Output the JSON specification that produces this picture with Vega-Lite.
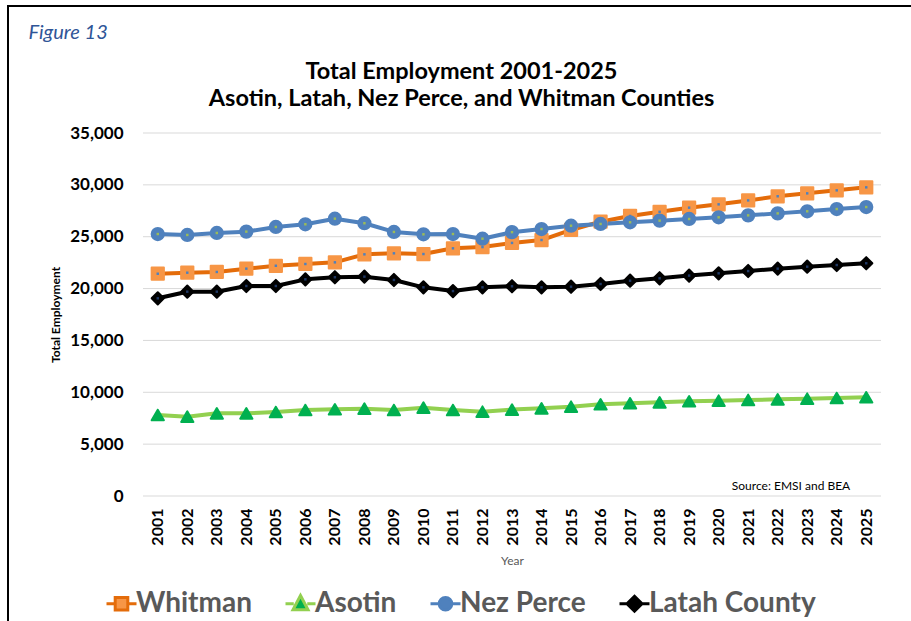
{
  "$schema": "https://vega.github.io/schema/vega-lite/v6.json",
  "width": 903,
  "height": 615,
  "autosize": {"type": "none"},
  "padding": {"left": 8, "top": 6, "right": 0, "bottom": 0},
  "background": "white",
  "config": {
    "font": "Lato",
    "view": {"stroke": "#000000", "strokeWidth": 2, "strokeDash": [903, 1518, 615]}
  },
  "title": {
    "text": ["Total Employment 2001-2025", "Asotin, Latah, Nez Perce, and Whitman Counties"],
    "anchor": "middle",
    "frame": "group",
    "baseline": "alphabetic",
    "offset": -123,
    "dx": 2,
    "lineHeight": 27,
    "font": "Lato",
    "fontSize": 23.5,
    "fontWeight": "bold",
    "color": "#000000"
  },
  "datasets": {
    "emp": [
      {"year": 2001, "county": "Whitman", "value": 21430},
      {"year": 2002, "county": "Whitman", "value": 21530},
      {"year": 2003, "county": "Whitman", "value": 21600},
      {"year": 2004, "county": "Whitman", "value": 21920},
      {"year": 2005, "county": "Whitman", "value": 22200},
      {"year": 2006, "county": "Whitman", "value": 22370},
      {"year": 2007, "county": "Whitman", "value": 22530},
      {"year": 2008, "county": "Whitman", "value": 23300},
      {"year": 2009, "county": "Whitman", "value": 23400},
      {"year": 2010, "county": "Whitman", "value": 23330},
      {"year": 2011, "county": "Whitman", "value": 23880},
      {"year": 2012, "county": "Whitman", "value": 24000},
      {"year": 2013, "county": "Whitman", "value": 24400},
      {"year": 2014, "county": "Whitman", "value": 24680},
      {"year": 2015, "county": "Whitman", "value": 25650},
      {"year": 2016, "county": "Whitman", "value": 26450},
      {"year": 2017, "county": "Whitman", "value": 27000},
      {"year": 2018, "county": "Whitman", "value": 27400},
      {"year": 2019, "county": "Whitman", "value": 27800},
      {"year": 2020, "county": "Whitman", "value": 28120},
      {"year": 2021, "county": "Whitman", "value": 28500},
      {"year": 2022, "county": "Whitman", "value": 28900},
      {"year": 2023, "county": "Whitman", "value": 29180},
      {"year": 2024, "county": "Whitman", "value": 29470},
      {"year": 2025, "county": "Whitman", "value": 29760},
      {"year": 2001, "county": "Asotin", "value": 7810},
      {"year": 2002, "county": "Asotin", "value": 7650},
      {"year": 2003, "county": "Asotin", "value": 7970},
      {"year": 2004, "county": "Asotin", "value": 7970},
      {"year": 2005, "county": "Asotin", "value": 8100},
      {"year": 2006, "county": "Asotin", "value": 8290},
      {"year": 2007, "county": "Asotin", "value": 8360},
      {"year": 2008, "county": "Asotin", "value": 8420},
      {"year": 2009, "county": "Asotin", "value": 8290},
      {"year": 2010, "county": "Asotin", "value": 8520},
      {"year": 2011, "county": "Asotin", "value": 8290},
      {"year": 2012, "county": "Asotin", "value": 8130},
      {"year": 2013, "county": "Asotin", "value": 8330},
      {"year": 2014, "county": "Asotin", "value": 8450},
      {"year": 2015, "county": "Asotin", "value": 8610},
      {"year": 2016, "county": "Asotin", "value": 8840},
      {"year": 2017, "county": "Asotin", "value": 8940},
      {"year": 2018, "county": "Asotin", "value": 9030},
      {"year": 2019, "county": "Asotin", "value": 9130},
      {"year": 2020, "county": "Asotin", "value": 9190},
      {"year": 2021, "county": "Asotin", "value": 9260},
      {"year": 2022, "county": "Asotin", "value": 9320},
      {"year": 2023, "county": "Asotin", "value": 9380},
      {"year": 2024, "county": "Asotin", "value": 9450},
      {"year": 2025, "county": "Asotin", "value": 9520},
      {"year": 2001, "county": "Nez Perce", "value": 25260},
      {"year": 2002, "county": "Nez Perce", "value": 25170},
      {"year": 2003, "county": "Nez Perce", "value": 25360},
      {"year": 2004, "county": "Nez Perce", "value": 25490},
      {"year": 2005, "county": "Nez Perce", "value": 25940},
      {"year": 2006, "county": "Nez Perce", "value": 26200},
      {"year": 2007, "county": "Nez Perce", "value": 26740},
      {"year": 2008, "county": "Nez Perce", "value": 26300},
      {"year": 2009, "county": "Nez Perce", "value": 25460},
      {"year": 2010, "county": "Nez Perce", "value": 25230},
      {"year": 2011, "county": "Nez Perce", "value": 25260},
      {"year": 2012, "county": "Nez Perce", "value": 24810},
      {"year": 2013, "county": "Nez Perce", "value": 25440},
      {"year": 2014, "county": "Nez Perce", "value": 25740},
      {"year": 2015, "county": "Nez Perce", "value": 26060},
      {"year": 2016, "county": "Nez Perce", "value": 26230},
      {"year": 2017, "county": "Nez Perce", "value": 26390},
      {"year": 2018, "county": "Nez Perce", "value": 26550},
      {"year": 2019, "county": "Nez Perce", "value": 26710},
      {"year": 2020, "county": "Nez Perce", "value": 26870},
      {"year": 2021, "county": "Nez Perce", "value": 27060},
      {"year": 2022, "county": "Nez Perce", "value": 27250},
      {"year": 2023, "county": "Nez Perce", "value": 27450},
      {"year": 2024, "county": "Nez Perce", "value": 27670},
      {"year": 2025, "county": "Nez Perce", "value": 27860},
      {"year": 2001, "county": "Latah County", "value": 19060},
      {"year": 2002, "county": "Latah County", "value": 19700},
      {"year": 2003, "county": "Latah County", "value": 19700},
      {"year": 2004, "county": "Latah County", "value": 20250},
      {"year": 2005, "county": "Latah County", "value": 20250},
      {"year": 2006, "county": "Latah County", "value": 20890},
      {"year": 2007, "county": "Latah County", "value": 21090},
      {"year": 2008, "county": "Latah County", "value": 21150},
      {"year": 2009, "county": "Latah County", "value": 20830},
      {"year": 2010, "county": "Latah County", "value": 20120},
      {"year": 2011, "county": "Latah County", "value": 19760},
      {"year": 2012, "county": "Latah County", "value": 20120},
      {"year": 2013, "county": "Latah County", "value": 20220},
      {"year": 2014, "county": "Latah County", "value": 20120},
      {"year": 2015, "county": "Latah County", "value": 20180},
      {"year": 2016, "county": "Latah County", "value": 20440},
      {"year": 2017, "county": "Latah County", "value": 20760},
      {"year": 2018, "county": "Latah County", "value": 20990},
      {"year": 2019, "county": "Latah County", "value": 21250},
      {"year": 2020, "county": "Latah County", "value": 21470},
      {"year": 2021, "county": "Latah County", "value": 21690},
      {"year": 2022, "county": "Latah County", "value": 21920},
      {"year": 2023, "county": "Latah County", "value": 22110},
      {"year": 2024, "county": "Latah County", "value": 22270},
      {"year": 2025, "county": "Latah County", "value": 22440}
    ]
  },
  "resolve": {
    "scale": {"color": "independent", "fill": "independent", "stroke": "independent", "shape": "independent"},
    "axis": {"x": "independent"}
  },
  "layer": [
    {
      "data": {"values": [{"value": 0}, {"value": 5000}, {"value": 10000}, {"value": 15000}, {"value": 20000}, {"value": 25000}, {"value": 30000}, {"value": 35000}]},
      "mark": {"type": "rule", "color": "#D9D9D9", "strokeWidth": 1},
      "encoding": {
        "x": {
          "datum": 2000.5,
          "type": "quantitative",
          "scale": {"domain": [2000.5, 2025.5], "range": [135, 873], "nice": false, "zero": false},
          "axis": {
            "orient": "top",
            "labels": false, "ticks": false, "domain": false, "grid": false,
            "title": "Figure 13",
            "titleAnchor": "start",
            "titleX": 20, "titleY": 32,
            "titleAlign": "left", "titleBaseline": "alphabetic",
            "titleFont": "Lato", "titleFontSize": 20, "titleFontStyle": "italic", "titleFontWeight": "normal",
            "titleColor": "#2F5597"
          }
        },
        "x2": {"datum": 2025.5},
        "y": {"field": "value", "type": "quantitative"}
      }
    },
    {
      "data": {"name": "emp"},
      "mark": {"type": "line", "strokeWidth": 4, "strokeJoin": "round", "strokeCap": "round"},
      "encoding": {
        "x": {
          "field": "year", "type": "quantitative",
          "axis": {
            "orient": "bottom", "offset": -125,
            "values": [2001, 2002, 2003, 2004, 2005, 2006, 2007, 2008, 2009, 2010, 2011, 2012, 2013, 2014, 2015, 2016, 2017, 2018, 2019, 2020, 2021, 2022, 2023, 2024, 2025],
            "format": "d", "labelAngle": 270, "labelAlign": "right", "labelBaseline": "middle",
            "labelPadding": 12, "ticks": false, "tickSize": 0, "domain": false, "grid": false,
            "labelOverlap": false, "labelFlush": false,
            "labelFont": "Lato", "labelFontSize": 16, "labelFontWeight": "bold", "labelColor": "#000000",
            "title": "Year", "titleY": 68, "titleBaseline": "alphabetic",
            "titleFont": "Lato", "titleFontSize": 12, "titleFontWeight": "normal", "titleColor": "#595959"
          }
        },
        "y": {
          "field": "value", "type": "quantitative",
          "scale": {"domain": [0, 35000], "range": [490, 127], "nice": false},
          "axis": {
            "orient": "left", "offset": -115,
            "values": [0, 5000, 10000, 15000, 20000, 25000, 30000, 35000],
            "format": ",d", "labelPadding": 0, "ticks": false, "tickSize": 0, "domain": false, "grid": false,
            "labelFont": "Lato", "labelFontSize": 17, "labelFontWeight": "bold", "labelColor": "#000000",
            "title": "Total Employment", "titleX": -68, "titleY": 308.5, "titleAngle": 270,
            "titleAlign": "center", "titleBaseline": "middle",
            "titleFont": "Lato", "titleFontSize": 12, "titleFontWeight": "bold", "titleColor": "#000000"
          }
        },
        "color": {
          "field": "county", "type": "nominal",
          "scale": {"domain": ["Whitman", "Asotin", "Nez Perce", "Latah County"], "range": ["#E46C0A", "#92D050", "#4F81BD", "#000000"]},
          "legend": null
        },
        "detail": {"field": "county"}
      }
    },
    {
      "data": {"name": "emp"},
      "mark": {"type": "point", "filled": true, "strokeWidth": 2, "strokeJoin": "round", "opacity": 1, "size": 150},
      "encoding": {
        "x": {"field": "year", "type": "quantitative", "axis": null},
        "y": {"field": "value", "type": "quantitative"},
        "fill": {
          "field": "county", "type": "nominal",
          "scale": {"domain": ["Whitman", "Asotin", "Nez Perce", "Latah County"], "range": ["#F79646", "#00B050", "#4F81BD", "#000000"]},
          "legend": null
        },
        "stroke": {
          "field": "county", "type": "nominal",
          "scale": {"domain": ["Whitman", "Asotin", "Nez Perce", "Latah County"], "range": ["#F79646", "#00B050", "#4F81BD", "#000000"]},
          "legend": null
        },
        "shape": {
          "field": "county", "type": "nominal",
          "scale": {"domain": ["Whitman", "Asotin", "Nez Perce", "Latah County"], "range": ["square", "triangle-up", "circle", "diamond"]},
          "legend": null
        }
      }
    },
    {
      "data": {"name": "emp"},
      "transform": [{"filter": "datum.county !== 'Asotin'"}],
      "mark": {"type": "point", "filled": true, "shape": "square", "size": 6, "opacity": 1},
      "encoding": {
        "x": {"field": "year", "type": "quantitative", "axis": null},
        "y": {"field": "value", "type": "quantitative"},
        "color": {
          "field": "county", "type": "nominal",
          "scale": {"domain": ["Whitman", "Nez Perce", "Latah County"], "range": ["#4F81BD", "#9BBB59", "#1F3864"]},
          "legend": null
        }
      }
    },
    {
      "data": {"values": [{"label": "Source:  EMSI and BEA"}]},
      "mark": {"type": "text", "align": "right", "baseline": "middle", "dx": -16, "font": "Lato", "fontSize": 12, "color": "#000000"},
      "encoding": {
        "x": {"datum": 2025, "type": "quantitative", "axis": null},
        "y": {"datum": 1000, "type": "quantitative"},
        "text": {"field": "label"}
      }
    },
    {
      "data": {"name": "emp"},
      "mark": {"type": "point", "filled": true, "opacity": 0, "strokeWidth": 3},
      "encoding": {
        "x": {"field": "year", "type": "quantitative", "axis": null},
        "y": {"field": "value", "type": "quantitative"},
        "shape": {
          "field": "county", "type": "nominal",
          "scale": {"domain": ["Whitman", "Asotin", "Nez Perce", "Latah County"], "range": [
            "M-1,0L-0.45,0M0.45,0L1,0M-0.42,-0.42L0.42,-0.42L0.42,0.42L-0.42,0.42Z",
            "M-1,0L-0.45,0M0.45,0L1,0M0,-0.55L0.5,0.4L-0.5,0.4Z",
            "M-1,0L-0.42,0M0.42,0L1,0M-0.42,0A0.42,0.42 0 1,0 0.42,0A0.42,0.42 0 1,0 -0.42,0Z",
            "M-1,0L-0.5,0M0.5,0L1,0M0,-0.5L0.5,0L0,0.5L-0.5,0Z"
          ]},
          "legend": {
            "orient": "none", "legendX": 97, "legendY": 581, "direction": "horizontal",
            "title": null,
            "labelFont": "Lato", "labelFontSize": 28, "labelFontWeight": "bold", "labelColor": "#595959",
            "labelOffset": -2, "columnPadding": 27, "labelLimit": 400,
            "symbolSize": 900, "symbolStrokeWidth": 3, "symbolOpacity": 1
          }
        },
        "fill": {
          "field": "county", "type": "nominal",
          "scale": {"domain": ["Whitman", "Asotin", "Nez Perce", "Latah County"], "range": ["#F79646", "#00B050", "#4F81BD", "#000000"]},
          "legend": {
            "orient": "none", "legendX": 97, "legendY": 581, "direction": "horizontal",
            "title": null,
            "labelFont": "Lato", "labelFontSize": 28, "labelFontWeight": "bold", "labelColor": "#595959",
            "labelOffset": -2, "columnPadding": 27, "labelLimit": 400,
            "symbolSize": 900, "symbolStrokeWidth": 3, "symbolOpacity": 1
          }
        },
        "stroke": {
          "field": "county", "type": "nominal",
          "scale": {"domain": ["Whitman", "Asotin", "Nez Perce", "Latah County"], "range": ["#E46C0A", "#92D050", "#4F81BD", "#000000"]},
          "legend": {
            "orient": "none", "legendX": 97, "legendY": 581, "direction": "horizontal",
            "title": null,
            "labelFont": "Lato", "labelFontSize": 28, "labelFontWeight": "bold", "labelColor": "#595959",
            "labelOffset": -2, "columnPadding": 27, "labelLimit": 400,
            "symbolSize": 900, "symbolStrokeWidth": 3, "symbolOpacity": 1
          }
        }
      }
    }
  ]
}
